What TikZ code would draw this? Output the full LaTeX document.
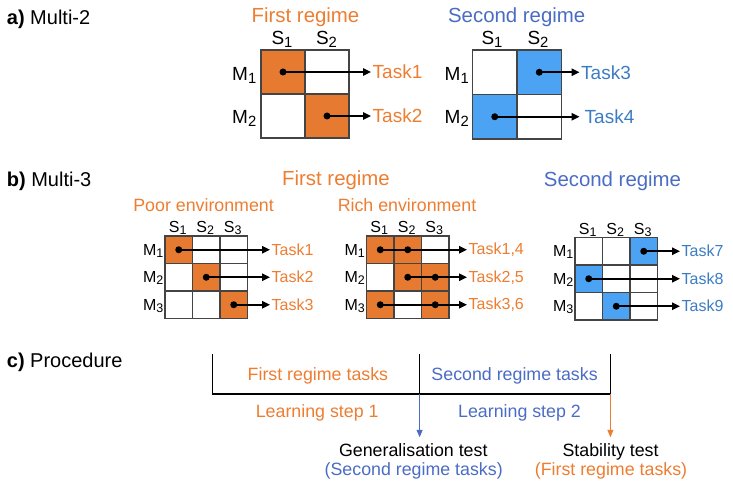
\documentclass[tikz,border=0pt]{standalone}
\usepackage{fontspec}
\setmainfont{Liberation Sans}
\usetikzlibrary{arrows.meta}
\definecolor{orT}{HTML}{ED7D31}
\definecolor{orF}{HTML}{E57A30}
\definecolor{blF}{HTML}{4DA3F3}
\definecolor{blT}{HTML}{4A6CC4}
\definecolor{blK}{HTML}{3C7CC2}
\definecolor{gridc}{HTML}{444444}
\newcommand\lbl[2]{#1\raisebox{-0.14em}{\scalebox{0.78}{#2}}}
\newcommand\fs[1]{\fontsize{#1}{#1}\selectfont}
\begin{document}
\begin{tikzpicture}[x=1pt,y=-1pt,
  cell/.style={draw=gridc,line width=1.1pt,minimum width=#1,minimum height=#1,inner sep=0pt,outer sep=0pt},
  bullet/.style={circle,fill=black,inner sep=0pt,minimum size=7pt},
  arr/.style={line width=1.6pt,-{Triangle[length=8pt,width=7.5pt]}},
  head/.style={anchor=base west,inner sep=0pt,font=\fs{20}},
  ttl/.style={anchor=base,inner sep=0pt,font=\fs{20.4}},
  txt/.style={anchor=base,inner sep=0pt,font=\fs{17.8}},
  taskA/.style={anchor=west,inner xsep=1.5pt,inner ysep=0pt,font=\fs{19}},
  taskB/.style={anchor=west,inner xsep=1.5pt,inner ysep=0pt,font=\fs{16}},
  labA/.style={inner sep=0pt,font=\fs{19}},
  labB/.style={inner sep=0pt,font=\fs{16}},
  procline/.style={line width=1.7pt,line join=miter},
  testarr/.style={line width=1.1pt,-{Triangle[length=7.5pt,width=6pt]}},
]
\useasboundingbox (0,0) rectangle (733,497);

% ---------------- a) Multi-2 ----------------
\node[head] (ha) at (6.7,25) {\textbf{a)} Multi-2};
\node[ttl,text=orT] (ta1) at (305.5,22.5) {First regime};
\node[ttl,text=blT] (ta2) at (516.7,22.5) {Second regime};

\foreach \r/\c/\f in {1/1/orF,1/2/white,2/1/white,2/2/orF}
  \node[cell=44,fill=\f] (A\r\c) at ({261+44*(\c-0.5)},{50+44*(\r-0.5)}) {};
\foreach \r/\c/\f in {1/1/white,1/2/blF,2/1/blF,2/2/white}
  \node[cell=44.5,fill=\f] (B\r\c) at ({472.5+44.5*(\c-0.5)},{50+44.5*(\r-0.5)}) {};

\node[labA,anchor=base] (AS1) at (282,45) {\lbl{S}{1}};
\node[labA,anchor=base] (AS2) at (326.5,45) {\lbl{S}{2}};
\node[labA,anchor=base east] (AM1) at (256.5,80.5) {\lbl{M}{1}};
\node[labA,anchor=base east] (AM2) at (256.5,123.5) {\lbl{M}{2}};
\node[labA,anchor=base] (BS1) at (492,45) {\lbl{S}{1}};
\node[labA,anchor=base] (BS2) at (538,45) {\lbl{S}{2}};
\node[labA,anchor=base east] (BM1) at (469,80.5) {\lbl{M}{1}};
\node[labA,anchor=base east] (BM2) at (469,123.5) {\lbl{M}{2}};

\node[bullet] (dA1) at (A11) {};
\node[bullet] (dA2) at (A22) {};
\node[bullet] (dB1) at (B12) {};
\node[bullet] (dB2) at (B21) {};
\node[taskA,text=orT] (tA1) at (371,72) {Task1};
\node[taskA,text=orT] (tA2) at (371,116) {Task2};
\node[taskA,text=blK] (tB1) at (579.5,72.25) {Task3};
\node[taskA,text=blK,inner xsep=5pt] (tB2) at (579.5,116.75) {Task4};
\draw[arr] (dA1.center) -- (tA1.west);
\draw[arr] (dA2.center) -- (tA2.west);
\draw[arr] (dB1.center) -- (tB1.west);
\draw[arr] (dB2.center) -- (tB2.west);

% ---------------- b) Multi-3 ----------------
\node[head] (hb) at (6.7,186.7) {\textbf{b)} Multi-3};
\node[ttl,text=orT] (tb1) at (336,185.5) {First regime};
\node[ttl,text=blT] (tb2) at (612.5,186) {Second regime};
\node[txt,text=orT] (env1) at (203.6,211.7) {Poor environment};
\node[txt,text=orT] (env2) at (407,211.7) {Rich environment};

\foreach \r/\c/\f in {1/1/orF,1/2/white,1/3/white,2/1/white,2/2/orF,2/3/white,3/1/white,3/2/white,3/3/orF}
  \node[cell=27.5,fill=\f] (P\r\c) at ({165+27.5*(\c-0.5)},{236+27.5*(\r-0.5)}) {};
\foreach \r/\c/\f in {1/1/orF,1/2/orF,1/3/white,2/1/white,2/2/orF,2/3/orF,3/1/orF,3/2/white,3/3/orF}
  \node[cell=27.5,fill=\f] (R\r\c) at ({366.5+27.5*(\c-0.5)},{236+27.5*(\r-0.5)}) {};
\foreach \r/\c/\f in {1/1/white,1/2/white,1/3/blF,2/1/blF,2/2/white,2/3/white,3/1/white,3/2/blF,3/3/white}
  \node[cell=27.5,fill=\f] (Q\r\c) at ({575+27.5*(\c-0.5)},{237.5+27.5*(\r-0.5)}) {};

% column / row labels
\foreach \g/\x/\y in {P/165/236,R/366.5/236,Q/575/237.5}{
  \foreach \k in {1,2,3}{
    \node[labB,anchor=base] (\g S\k) at ({\x+27.5*(\k-0.5)-1},{\y-3.5}) {\lbl{S}{\k}};
    \node[labB,anchor=base east] (\g M\k) at ({\x-1.5},{\y+27.5*(\k-0.5)+5.5}) {\lbl{M}{\k}};
  }
}

% poor environment
\node[bullet] (dP1) at (P11) {};
\node[bullet] (dP2) at (P22) {};
\node[bullet] (dP3) at (P33) {};
\node[taskB,text=orT] (tP1) at (270,249.75) {Task1};
\node[taskB,text=orT] (tP2) at (270,277.25) {Task2};
\node[taskB,text=orT] (tP3) at (270,304.75) {Task3};
\draw[arr] (dP1.center) -- (tP1.west);
\draw[arr] (dP2.center) -- (tP2.west);
\draw[arr] (dP3.center) -- (tP3.west);

% rich environment
\node[bullet] (dR11) at (R11) {};
\node[bullet] (dR12) at (R12) {};
\node[bullet] (dR22) at (R22) {};
\node[bullet] (dR23) at (R23) {};
\node[bullet] (dR31) at (R31) {};
\node[bullet] (dR33) at (R33) {};
\node[taskB,text=orT] (tR1) at (467,249.75) {Task1,4};
\node[taskB,text=orT] (tR2) at (467,277.25) {Task2,5};
\node[taskB,text=orT] (tR3) at (467,304.75) {Task3,6};
\draw[arr] (dR11.center) -- (tR1.west);
\draw[arr] (dR22.center) -- (tR2.west);
\draw[arr] (dR31.center) -- (tR3.west);

% second regime
\node[bullet] (dQ1) at (Q13) {};
\node[bullet] (dQ2) at (Q21) {};
\node[bullet] (dQ3) at (Q32) {};
\node[taskB,text=blK] (tQ1) at (680,251.25) {Task7};
\node[taskB,text=blK] (tQ2) at (680,278.75) {Task8};
\node[taskB,text=blK] (tQ3) at (680,306.25) {Task9};
\draw[arr] (dQ1.center) -- (tQ1.west);
\draw[arr] (dQ2.center) -- (tQ2.west);
\draw[arr] (dQ3.center) -- (tQ3.west);

% ---------------- c) Procedure ----------------
\node[head] (hc) at (6.7,367) {\textbf{c)} Procedure};
\coordinate (c0t) at (212.4,354);
\coordinate (c0b) at (212.4,394.3);
\coordinate (c1t) at (419.6,354);
\coordinate (c1b) at (419.6,394.3);
\coordinate (c2t) at (610.4,354);
\coordinate (c2b) at (610.4,394.3);
\coordinate (c1a) at (419.6,437.3);
\coordinate (c2a) at (610.4,437.3);
\draw[procline] (c0t) -- (c0b) -- (c2b) -- (c2t);
\draw[procline] (c1t) -- (c1b);
\draw[testarr,draw=blT,fill=blT] (c1b) -- (c1a);
\draw[testarr,draw=orT,fill=orT] (c2b) -- (c2a);

\node[txt,text=orT] (pt1) at (317.9,380.7) {First regime tasks};
\node[txt,text=blT] (pt2) at (514.6,380.7) {Second regime tasks};
\node[txt,text=orT] (ls1) at (317.2,417.3) {Learning step 1};
\node[txt,text=blT] (ls2) at (519.5,417.3) {Learning step 2};
\node[txt] (gt) at (413.3,456.7) {Generalisation test};
\node[txt,text=blT] (gt2) at (413.7,475.3) {(Second regime tasks)};
\node[txt] (st) at (610.6,456.7) {Stability test};
\node[txt,text=orT] (st2) at (611,475.3) {(First regime tasks)};
\end{tikzpicture}
\end{document}
